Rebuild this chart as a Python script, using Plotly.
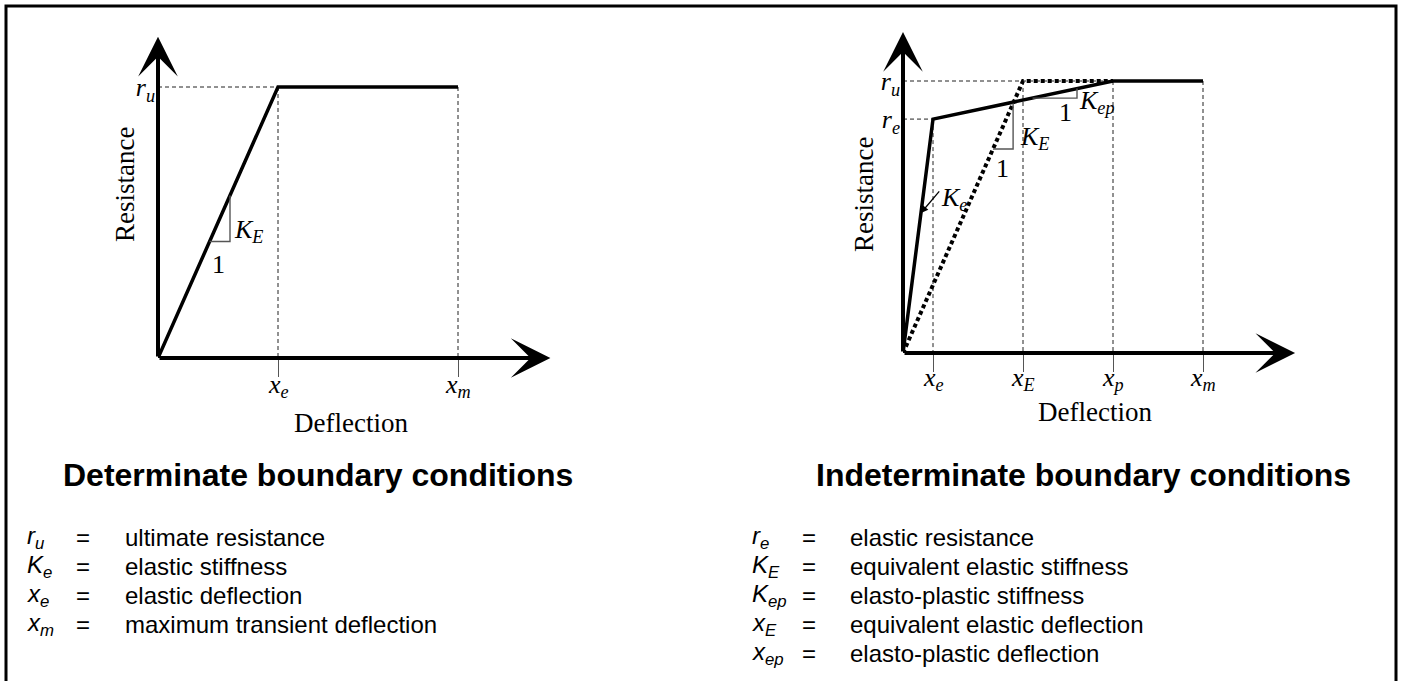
import plotly.graph_objects as go

W, H = 1401, 681

# ---------------- data (normalised units) ----------------
# Determinate boundary conditions (left panel)
det_deflection = [0.0, 1.0, 2.5]          # origin, x_e, x_m
det_resistance = [0.0, 1.0, 1.0]          # origin, r_u, r_u
det_tick_vals = [1.0, 2.5]
det_tick_text = ["<i>x<sub>e</sub></i>", "<i>x<sub>m</sub></i>"]
det_r_vals = [1.0]
det_r_text = ["<i>r<sub>u</sub></i>"]
det_slope_x = [0.43, 0.60, 0.60]
det_slope_y = [0.43, 0.43, 0.60]

# Indeterminate boundary conditions (right panel)
ind_deflection = [0.0, 1.0, 7.0, 10.0]    # origin, x_e, x_p, x_m
ind_resistance = [0.0, 0.86, 1.0, 1.0]    # origin, r_e, r_u, r_u
ind_equiv_deflection = [0.0, 4.0, 7.0]    # origin, x_E, x_p
ind_equiv_resistance = [0.0, 1.0, 1.0]
ind_tick_vals = [1.0, 4.0, 7.0, 10.0]
ind_tick_text = ["<i>x<sub>e</sub></i>", "<i>x<sub>E</sub></i>",
                 "<i>x<sub>p</sub></i>", "<i>x<sub>m</sub></i>"]
ind_r_vals = [0.86, 1.0]
ind_r_text = ["<i>r<sub>e</sub></i>", "<i>r<sub>u</sub></i>"]
ind_KE_x = [3.0, 3.67, 3.67]
ind_KE_y = [0.75, 0.75, 0.917]
ind_Kep_x = [4.32, 5.8, 5.8]
ind_Kep_y = [0.937, 0.937, 0.972]

# Legends
det_legend_symbols = ["<i>r<sub>u</sub></i>", "<i>K<sub>e</sub></i>",
                      "<i>x<sub>e</sub></i>", "<i>x<sub>m</sub></i>"]
det_legend_text = ["ultimate resistance", "elastic stiffness",
                   "elastic deflection", "maximum transient deflection"]
ind_legend_symbols = ["<i>r<sub>e</sub></i>", "<i>K<sub>E</sub></i>",
                      "<i>K<sub>ep</sub></i>", "<i>x<sub>E</sub></i>",
                      "<i>x<sub>ep</sub></i>"]
ind_legend_text = ["elastic resistance", "equivalent elastic stiffness",
                   "elasto-plastic stiffness", "equivalent elastic deflection",
                   "elasto-plastic deflection"]

# ---------------- layout constants (pixels) ----------------
SERIF = "Liberation Serif"
SANS = "Liberation Sans"


def px(x):
    return x / W


def py(y):
    return 1 - y / H


# left panel geometry
L_ox, L_oy, L_sx, L_sy = 158, 358, 120, 271
L_xmax, L_ymax = 3.4, 1.2
# right panel geometry
R_ox, R_oy, R_sx, R_sy = 903, 353, 30, 272
R_xmax, R_ymax = 13.4, 1.2

fig = go.Figure()

DASH = dict(color="#222", width=1, dash="4px,3px")


def guides(xs_h, ys_h, xs_v, ys_v):
    gx, gy = [], []
    for (x0, x1), y in zip(xs_h, ys_h):
        gx += [x0, x1, None]
        gy += [y, y, None]
    for x, (y0, y1) in zip(xs_v, ys_v):
        gx += [x, x, None]
        gy += [y0, y1, None]
    return gx, gy


# ---- left panel traces ----
gx, gy = guides([(0, det_deflection[1])], [det_resistance[1]],
                det_tick_vals, [(det_resistance[1], 0)] * len(det_tick_vals))
fig.add_trace(go.Scatter(x=gx, y=gy, mode="lines", line=DASH,
                         xaxis="x", yaxis="y", hoverinfo="skip"))
fig.add_trace(go.Scatter(x=det_deflection, y=det_resistance, mode="lines",
                         line=dict(color="black", width=3.5),
                         xaxis="x", yaxis="y"))
fig.add_trace(go.Scatter(x=det_slope_x, y=det_slope_y, mode="lines",
                         line=dict(color="#555", width=1.4),
                         xaxis="x", yaxis="y", hoverinfo="skip"))

# ---- right panel traces ----
r_u = ind_resistance[2]
r_e = ind_resistance[1]
gx, gy = guides([(0, ind_deflection[2]), (0, ind_deflection[1])], [r_u, r_e],
                ind_tick_vals, [(r_e, 0), (r_u, 0), (r_u, 0), (r_u, 0)])
fig.add_trace(go.Scatter(x=gx, y=gy, mode="lines", line=DASH,
                         xaxis="x2", yaxis="y2", hoverinfo="skip"))
fig.add_trace(go.Scatter(x=ind_equiv_deflection, y=ind_equiv_resistance,
                         mode="lines",
                         line=dict(color="black", width=4, dash="4px,3px"),
                         xaxis="x2", yaxis="y2"))
fig.add_trace(go.Scatter(x=ind_deflection, y=ind_resistance, mode="lines",
                         line=dict(color="black", width=3.5),
                         xaxis="x2", yaxis="y2"))
fig.add_trace(go.Scatter(x=ind_KE_x, y=ind_KE_y, mode="lines",
                         line=dict(color="#555", width=1.4),
                         xaxis="x2", yaxis="y2", hoverinfo="skip"))
fig.add_trace(go.Scatter(x=ind_Kep_x, y=ind_Kep_y, mode="lines",
                         line=dict(color="#555", width=1.4),
                         xaxis="x2", yaxis="y2", hoverinfo="skip"))

# ---------------- axes ----------------
tickfont = dict(family=SERIF, size=26, color="black")


def xaxis_cfg(ox, sx, xmax, vals, anchor):
    return dict(domain=[px(ox), px(ox + xmax * sx)], range=[0, xmax],
                showgrid=False, zeroline=False, showline=False,
                ticks="outside", ticklen=18, tickwidth=1.2, tickcolor="#555",
                tickvals=vals, showticklabels=False,
                anchor=anchor, fixedrange=True)


def yaxis_cfg(oy, sy, ymax, vals, text, anchor):
    return dict(domain=[py(oy), py(oy - ymax * sy)], range=[0, ymax],
                showgrid=False, zeroline=False, showline=False,
                ticks="", tickvals=vals, ticktext=text, tickfont=tickfont,
                ticklabelstandoff=2, anchor=anchor, fixedrange=True)


annotations = []


def axis_arrow(xref, yref, x, y):
    annotations.append(dict(x=x, y=y, ax=0, ay=0, xref=xref, yref=yref,
                            axref=xref, ayref=yref, text="", showarrow=True,
                            arrowhead=3, arrowsize=1.65, arrowwidth=4,
                            arrowcolor="black", standoff=0, startstandoff=0))


axis_arrow("x", "y", 3.27, 0)
axis_arrow("x", "y", 0, 1.185)
axis_arrow("x2", "y2", 13.07, 0)
axis_arrow("x2", "y2", 0, 1.18)


def label(xref, yref, x, y, text, size=26, xanchor="center", yanchor="middle",
          yshift=0):
    annotations.append(dict(x=x, y=y, xref=xref, yref=yref, text=text,
                            showarrow=False, xanchor=xanchor, yanchor=yanchor,
                            yshift=yshift,
                            font=dict(family=SERIF, size=size, color="black")))


# x tick labels, placed at the tick values of each axis
for v, t in zip(det_tick_vals, det_tick_text):
    label("x", "y", v, 0, t, size=26, yanchor="top", yshift=-10)
for v, t in zip(ind_tick_vals, ind_tick_text):
    label("x2", "y2", v, 0, t, size=26, yanchor="top", yshift=-8)

label("x", "y", 0.62, 0.47, "<i>K<sub>E</sub></i>", xanchor="left")
label("x", "y", 0.5, 0.345, "1")
label("x2", "y2", 3.82, 0.79, "<i>K<sub>E</sub></i>", xanchor="left")
label("x2", "y2", 3.3, 0.68, "1")
label("x2", "y2", 5.4, 0.886, "1")
label("x2", "y2", 5.8, 0.923, "<i>K<sub>ep</sub></i>", xanchor="left")
label("x2", "y2", 1.2, 0.565, "<i>K<sub>e</sub></i>", xanchor="left")
annotations.append(dict(x=0.6, y=0.515, ax=1.25, ay=0.6, xref="x2", yref="y2",
                        axref="x2", ayref="y2", text="", showarrow=True,
                        arrowhead=2, arrowsize=1.1, arrowwidth=1.3,
                        arrowcolor="black", standoff=0))


def paper_text(x, y, text, family, size, xanchor="center", angle=0):
    annotations.append(dict(x=px(x), y=py(y), xref="paper", yref="paper",
                            text=text, showarrow=False, xanchor=xanchor,
                            yanchor="middle", textangle=angle,
                            font=dict(family=family, size=size, color="black")))


paper_text(125, 185, "Resistance", SERIF, 27, angle=-90)
paper_text(864, 195, "Resistance", SERIF, 27, angle=-90)
paper_text(351, 423, "Deflection", SERIF, 27)
paper_text(1095, 412, "Deflection", SERIF, 27)

paper_text(318, 475, "<b>Determinate boundary conditions</b>", SANS, 32)
paper_text(1083, 475, "<b>Indeterminate boundary conditions</b>", SANS, 32)

ROW0, ROWSTEP = 537, 29
for i, (s, t) in enumerate(zip(det_legend_symbols, det_legend_text)):
    yy = ROW0 + i * ROWSTEP
    paper_text(25, yy, s, SANS, 24, xanchor="left")
    paper_text(74, yy, "=", SANS, 24, xanchor="left")
    paper_text(123, yy, t, SANS, 24, xanchor="left")
for i, (s, t) in enumerate(zip(ind_legend_symbols, ind_legend_text)):
    yy = ROW0 + i * ROWSTEP
    paper_text(750, yy, s, SANS, 24, xanchor="left")
    paper_text(800, yy, "=", SANS, 24, xanchor="left")
    paper_text(848, yy, t, SANS, 24, xanchor="left")

fig.update_layout(
    width=W, height=H, margin=dict(l=0, r=0, t=0, b=0),
    paper_bgcolor="white", plot_bgcolor="rgba(0,0,0,0)",
    showlegend=False,
    xaxis=xaxis_cfg(L_ox, L_sx, L_xmax, det_tick_vals, "y"),
    yaxis=yaxis_cfg(L_oy, L_sy, L_ymax, det_r_vals, det_r_text, "x"),
    xaxis2=xaxis_cfg(R_ox, R_sx, R_xmax, ind_tick_vals, "y2"),
    yaxis2=yaxis_cfg(R_oy, R_sy, R_ymax, ind_r_vals, ind_r_text, "x2"),
    annotations=annotations,
    shapes=[dict(type="rect", xref="paper", yref="paper",
                 x0=px(6), x1=px(1396), y0=-0.05, y1=py(6),
                 line=dict(color="black", width=3))],
)

fig.write_html(
    "out.html",
    config={"displayModeBar": False},
    post_script="document.body.style.margin='0';"
                "document.body.style.overflow='hidden';",
)
